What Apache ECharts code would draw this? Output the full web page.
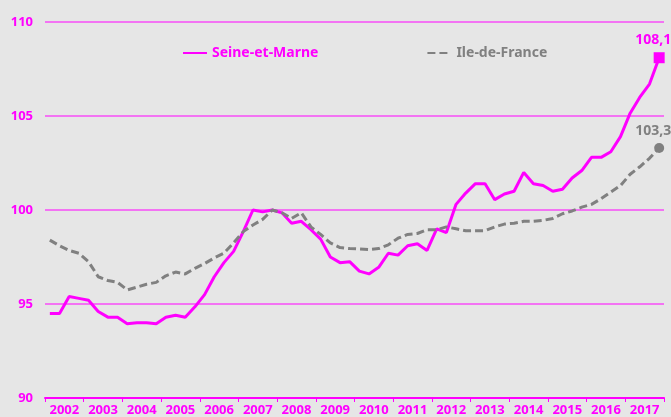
<!DOCTYPE html>
<html>
<head>
<meta charset="utf-8">
<script src="https://cdn.jsdelivr.net/npm/echarts@6/dist/echarts.min.js"></script>
<style>
html,body{margin:0;padding:0;background:#e6e6e6;}
#c{width:671px;height:417px;}
</style>
</head>
<body>
<div id="c"></div>
<script>
var years = ['2002','2003','2004','2005','2006','2007','2008','2009','2010','2011','2012','2013','2014','2015','2016','2017'];
var quarters = [];
years.forEach(function(y){ for (var q=1;q<=4;q++) quarters.push(y+' T'+q); });

var seineEtMarne = [94.5, 94.5, 95.4, 95.3, 95.2, 94.6, 94.3, 94.3, 93.95, 94.0, 94.0, 93.95, 94.3, 94.4, 94.3, 94.85,
  95.5, 96.45, 97.2, 97.8, 98.85, 100.0, 99.9, 100.0, 99.85, 99.3, 99.4, 98.95, 98.45, 97.5, 97.2, 97.25,
  96.75, 96.6, 96.95, 97.7, 97.6, 98.1, 98.2, 97.85, 99.0, 98.8, 100.3, 100.9, 101.4, 101.4, 100.55, 100.85,
  101.0, 102.0, 101.4, 101.3, 101.0, 101.1, 101.7, 102.1, 102.8, 102.8, 103.1, 103.9, 105.15, 106.0, 106.7, 108.1];
var ileDeFrance = [98.4, 98.1, 97.85, 97.7, 97.25, 96.45, 96.25, 96.15, 95.75, 95.9, 96.05, 96.15, 96.5, 96.7, 96.6, 96.9,
  97.15, 97.45, 97.7, 98.25, 98.85, 99.2, 99.5, 100.0, 99.85, 99.55, 99.85, 99.1, 98.7, 98.25, 98.0, 97.95,
  97.93, 97.9, 97.95, 98.15, 98.5, 98.7, 98.75, 98.95, 98.95, 99.1, 99.0, 98.9, 98.9, 98.9, 99.1, 99.25,
  99.3, 99.4, 99.4, 99.45, 99.55, 99.8, 99.95, 100.15, 100.3, 100.6, 100.95, 101.3, 101.9, 102.3, 102.75, 103.3];
var yTicks = [90, 95, 100, 105, 110];

var MAG = '#ff00ff', GRAY = '#808080', FONT = 'Noto Sans';

function withEnd(arr, sym, size, color) {
  return arr.map(function(v, i){
    if (i !== arr.length - 1) return v;
    return {
      value: v, symbol: sym, symbolSize: size,
      itemStyle: {color: color},
      label: {
        show: true, position: 'top', distance: 5, offset: [-6, 0],
        color: color, fontFamily: FONT, fontWeight: 'bold', fontSize: 14,
        formatter: function(p){ return String(p.value).replace('.', ','); }
      }
    };
  });
}

var chart = echarts.init(document.getElementById('c'));
chart.setOption({
  backgroundColor: '#e6e6e6',
  animation: false,
  grid: {left: 45, right: 7, top: 22, bottom: 19, containLabel: false},
  legend: {
    left: 177, top: 41, itemWidth: 24, itemHeight: 12, itemGap: 108,
    textStyle: {fontFamily: FONT, fontWeight: 'bold', fontSize: 14},
    data: [
      {name: 'Seine-et-Marne', textStyle: {color: MAG}, itemStyle: {opacity: 0}},
      {name: 'Ile-de-France', textStyle: {color: GRAY}, itemStyle: {opacity: 0}}
    ]
  },
  xAxis: [
    {
      type: 'category', data: years, boundaryGap: true, position: 'bottom',
      axisLine: {show: true, lineStyle: {color: MAG, width: 2}},
      axisTick: {show: true, length: 4, lineStyle: {color: MAG, width: 1}},
      axisLabel: {color: MAG, fontFamily: FONT, fontWeight: 'bold', fontSize: 13, margin: 6, interval: 0},
      splitLine: {show: false}
    },
    {
      type: 'category', data: quarters, boundaryGap: true, position: 'bottom', show: false
    }
  ],
  yAxis: {
    type: 'value', min: yTicks[0], max: yTicks[yTicks.length-1], interval: 5,
    axisLine: {show: false}, axisTick: {show: false},
    axisLabel: {color: MAG, fontFamily: FONT, fontWeight: 'bold', fontSize: 13, margin: 12},
    splitLine: {lineStyle: {color: 'rgba(255,0,255,0.5)', width: 2}}
  },
  series: [
    {
      name: 'Seine-et-Marne', type: 'line', xAxisIndex: 1,
      data: withEnd(seineEtMarne, 'rect', 11, MAG),
      symbol: 'none', showSymbol: true,
      lineStyle: {color: MAG, width: 3}, itemStyle: {color: MAG},
      z: 2
    },
    {
      name: 'Ile-de-France', type: 'line', xAxisIndex: 1,
      data: withEnd(ileDeFrance, 'circle', 10, GRAY),
      symbol: 'none', showSymbol: true,
      lineStyle: {color: GRAY, width: 3, type: [8, 4]}, itemStyle: {color: GRAY},
      z: 3
    }
  ]
});
</script>
</body>
</html>
